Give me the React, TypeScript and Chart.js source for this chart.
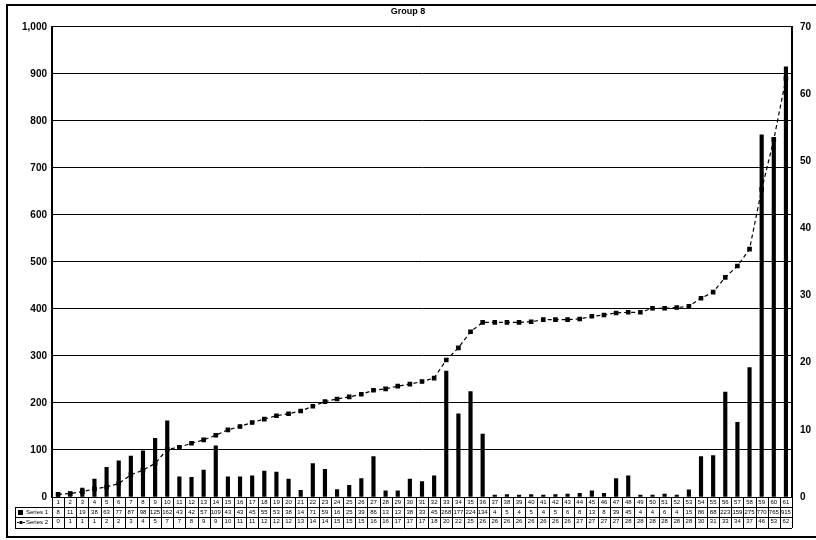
import React, { useEffect, useRef } from 'react';
import { Chart, registerables } from 'chart.js';

Chart.register(...registerables);

const chartTitle = 'Group 8';
const barSeriesName = 'Series 1';
const lineSeriesName = 'Series 2';

const categories = [
  '1', '2', '3', '4', '5', '6', '7', '8', '9', '10',
  '11', '12', '13', '14', '15', '16', '17', '18', '19', '20',
  '21', '22', '23', '24', '25', '26', '27', '28', '29', '30',
  '31', '32', '33', '34', '35', '36', '37', '38', '39', '40',
  '41', '42', '43', '44', '45', '46', '47', '48', '49', '50',
  '51', '52', '53', '54', '55', '56', '57', '58', '59', '60', '61',
];

const barValues = [
  8, 11, 19, 38, 63, 77, 87, 98, 125, 162,
  43, 42, 57, 109, 43, 43, 45, 55, 53, 38,
  14, 71, 59, 16, 25, 39, 86, 13, 13, 38,
  33, 45, 268, 177, 224, 134, 4, 5, 4, 5,
  4, 5, 6, 8, 13, 8, 39, 45, 4, 4,
  6, 4, 15, 86, 88, 223, 159, 275, 770, 765, 915,
];

const lineValues = [
  0.4, 0.5, 0.8, 1.2, 1.5, 2.0, 3.3, 4.0, 5.0, 7.1,
  7.4, 8.0, 8.5, 9.2, 10.0, 10.5, 11.1, 11.6, 12.1, 12.4,
  12.8, 13.5, 14.2, 14.6, 14.9, 15.3, 15.9, 16.1, 16.5, 16.8,
  17.2, 17.7, 20.4, 22.2, 24.6, 26.0, 26.0, 26.0, 26.0, 26.1,
  26.4, 26.4, 26.4, 26.5, 26.9, 27.1, 27.4, 27.5, 27.5, 28.1,
  28.1, 28.2, 28.4, 29.6, 30.5, 32.7, 34.4, 36.9, 45.8, 53.2, 62.3,
];

const leftMax = 1000;
const leftStep = 100;
const rightMax = 70;
const rightStep = 10;

const FONT = "'Liberation Sans', Arial, sans-serif";

const tableFramePlugin = {
  id: 'tableFrame',
  afterDraw(chart: any) {
    const { ctx, chartArea } = chart;
    const xs = chart.scales.x;
    const n = categories.length;
    const w = (xs.right - xs.left) / n;
    const top = chartArea.bottom;
    const rowYs = [top, top + 10, top + 20, top + 31];
    ctx.save();
    ctx.strokeStyle = '#000';
    ctx.fillStyle = '#000';
    ctx.lineWidth = 1;
    rowYs.forEach((y, k) => {
      ctx.beginPath();
      ctx.moveTo(k === 0 ? xs.left : 15, y + 0.5);
      ctx.lineTo(xs.right, y + 0.5);
      ctx.stroke();
    });
    for (let i = 0; i <= n; i++) {
      const px = Math.round(xs.left + i * w) + 0.5;
      ctx.beginPath();
      ctx.moveTo(px, top);
      ctx.lineTo(px, rowYs[3]);
      ctx.stroke();
    }
    ctx.beginPath();
    ctx.moveTo(15.5, rowYs[1]);
    ctx.lineTo(15.5, rowYs[3]);
    ctx.stroke();
    ctx.fillRect(18, rowYs[1] + 3, 5, 5);
    ctx.setLineDash([2, 1]);
    ctx.beginPath();
    ctx.moveTo(17, rowYs[2] + 5.5);
    ctx.lineTo(25, rowYs[2] + 5.5);
    ctx.stroke();
    ctx.setLineDash([]);
    ctx.fillRect(19.5, rowYs[2] + 4, 3, 3);
    ctx.font = `6px ${FONT}`;
    ctx.textBaseline = 'middle';
    ctx.fillText(barSeriesName, 26, rowYs[1] + 5.5);
    ctx.fillText(lineSeriesName, 26, rowYs[2] + 5.5);
    ctx.lineWidth = 2;
    ctx.strokeRect(7, 5, 830, 532);
    ctx.restore();
  },
};

export default function App() {
  const canvasRef = useRef<HTMLCanvasElement | null>(null);

  useEffect(() => {
    if (!canvasRef.current) return;
    const labels = categories.map((c, i) => [
      c,
      String(barValues[i]),
      String(Math.round(lineValues[i])),
    ]);
    const chart = new Chart(canvasRef.current, {
      type: 'bar',
      data: {
        labels,
        datasets: [
          {
            type: 'line',
            label: lineSeriesName,
            data: lineValues,
            yAxisID: 'y1',
            borderColor: '#000',
            borderWidth: 1.2,
            borderDash: [4, 3],
            pointStyle: 'rect',
            pointRadius: 2.4,
            pointBackgroundColor: '#000',
            pointBorderColor: '#000',
            tension: 0,
            order: 1,
          } as any,
          {
            type: 'bar',
            label: barSeriesName,
            data: barValues,
            yAxisID: 'y',
            backgroundColor: '#000',
            barThickness: 3.5,
            order: 2,
          },
        ],
      },
      options: {
        responsive: false,
        animation: false,
        devicePixelRatio: 1,
        layout: { padding: 0 },
        plugins: {
          legend: { display: false },
          tooltip: { enabled: false },
          title: {
            display: true,
            text: chartTitle,
            color: '#000',
            font: { family: FONT, size: 9, weight: 'bold' },
            padding: { top: 6, bottom: 10 },
          },
        },
        scales: {
          x: {
            type: 'category',
            offset: true,
            grid: { display: false },
            border: { display: false },
            ticks: {
              autoSkip: false,
              maxRotation: 0,
              minRotation: 0,
              padding: -8,
              color: '#000',
              font: { family: FONT, size: 6, lineHeight: 1.65 },
            },
            afterFit: (s: any) => {
              s.height = 43;
            },
          },
          y: {
            position: 'left',
            min: 0,
            max: leftMax,
            ticks: {
              stepSize: leftStep,
              padding: 5,
              color: '#000',
              font: { family: FONT, size: 10, weight: 'bold' },
            },
            grid: { color: '#000', lineWidth: 1, drawTicks: false },
            border: { display: true, color: '#000', width: 2 },
            afterFit: (s: any) => {
              s.width = 52;
            },
          },
          y1: {
            position: 'right',
            min: 0,
            max: rightMax,
            ticks: {
              stepSize: rightStep,
              padding: 8,
              color: '#000',
              font: { family: FONT, size: 10, weight: 'bold' },
            },
            grid: { drawOnChartArea: false, drawTicks: false },
            border: { display: true, color: '#000', width: 2 },
            afterFit: (s: any) => {
              s.width = 24;
            },
          },
        },
      },
      plugins: [tableFramePlugin],
    });
    return () => chart.destroy();
  }, []);

  return (
    <div style={{ position: 'absolute', left: 0, top: 0, width: 816, height: 540, background: '#fff' }}>
      <canvas ref={canvasRef} width={816} height={540} />
    </div>
  );
}
